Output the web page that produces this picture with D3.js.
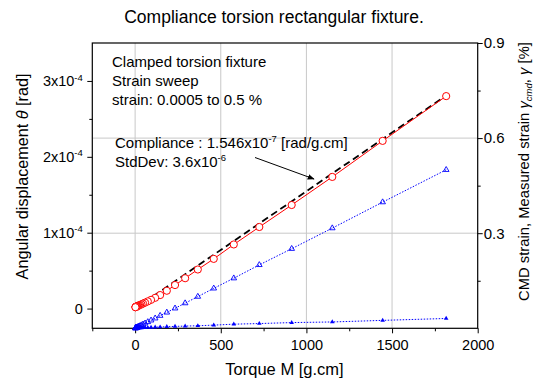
<!DOCTYPE html>
<html>
<head>
<meta charset="utf-8">
<script src="https://cdn.jsdelivr.net/npm/d3@7"></script>
<style>
  body { margin: 0; background: #fff; }
  svg { display: block; font-family: Arial, "Liberation Sans", sans-serif; }
</style>
</head>
<body>
<svg id="chart" width="538" height="383"></svg>
<script>

// DATA //
var torque = [1816, 1445, 1151, 914, 725, 576, 459, 366, 292, 233, 185, 146, 117, 93, 74, 58,
  46, 37, 29, 23, 18.4, 14.6, 11.6, 9.2, 7.3, 5.8, 4.6, 3.7, 2.9, 2.3, 1.8];
// angular displacement, rad
var angle = [2.80e-4, 2.21e-4, 1.735e-4, 1.365e-4, 1.075e-4, 0.845e-4, 0.655e-4, 0.515e-4, 0.40e-4,
  0.31e-4, 0.235e-4, 0.178e-4, 0.142e-4, 0.115e-4, 0.095e-4, 0.078e-4, 0.066e-4, 0.056e-4, 0.048e-4,
  0.042e-4, 0.037e-4, 0.033e-4, 0.030e-4, 0.027e-4, 0.025e-4, 0.023e-4, 0.022e-4, 0.021e-4, 0.020e-4,
  0.019e-4, 0.018e-4];
// CMD strain, %
var cmdStrain = [0.5, 0.398, 0.316, 0.251, 0.2, 0.158, 0.126, 0.1, 0.0794, 0.0631, 0.0501, 0.0398,
  0.0316, 0.0251, 0.02, 0.0158, 0.0126, 0.01, 0.00794, 0.00631, 0.00501, 0.00398, 0.00316, 0.00251,
  0.002, 0.00158, 0.00126, 0.001, 0.000794, 0.000631, 0.0005];
// measured strain, %
var measStrain = [0.031, 0.025, 0.020, 0.018, 0.015, 0.013, 0.010, 0.008, 0.007, 0.006, 0.005, 0.004,
  0.0035, 0.003, 0.0025, 0.002, 0.0018, 0.0015, 0.0012, 0.001, 0.0008, 0.0007, 0.0006, 0.0005,
  0.0004, 0.0003, 0.0003, 0.0002, 0.0002, 0.0001, 0.0001];
// compliance fit line
var fitTorque = [0, 1816];
var fitAngle = [0, 2.808e-4];

var xTicks = [0, 500, 1000, 1500, 2000];
var xMinor = [-250, 250, 750, 1250, 1750];
var yLTicks = [0, 1e-4, 2e-4, 3e-4];
var yLMinor = [0.5e-4, 1.5e-4, 2.5e-4];
var yRTicks = [0.3, 0.6, 0.9];
var yRMinor = [0.15, 0.45, 0.75];

var plot = { left: 92.3, right: 477.7, top: 43, bottom: 328.3 };

var svg = d3.select("#chart");

var x = d3.scaleLinear().domain([-250, 2000]).range([plot.left, plot.right]);
var yL = d3.scaleLinear().domain([-0.26e-4, 3.5e-4]).range([plot.bottom, plot.top]);
var yR = d3.scaleLinear().domain([0, 0.9]).range([plot.bottom, plot.top]);

// GRID //
var grid = svg.append("g").attr("stroke", "#c8c8c8").attr("stroke-width", 1);
grid.selectAll(".gx").data(xTicks.slice(0, -1)).enter().append("line")
  .attr("x1", d => x(d)).attr("x2", d => x(d))
  .attr("y1", plot.top).attr("y2", plot.bottom);
grid.selectAll(".gy").data(yRTicks.slice(0, -1)).enter().append("line")
  .attr("x1", plot.left).attr("x2", plot.right)
  .attr("y1", d => yR(d)).attr("y2", d => yR(d));

// AXES //
function styleAxis(g) {
  g.select(".domain").remove();
  g.selectAll("line").attr("stroke", "#000");
  g.selectAll("text").attr("fill", "#000");
}

svg.append("g")
  .attr("transform", `translate(0, ${plot.bottom})`)
  .call(d3.axisBottom(x).tickValues(xTicks).tickSize(5).tickPadding(6).tickFormat(d3.format("d")))
  .attr("font-size", 14.5).attr("font-family", null)
  .call(styleAxis);
svg.append("g")
  .attr("transform", `translate(0, ${plot.bottom})`)
  .call(d3.axisBottom(x).tickValues(xMinor).tickSize(3).tickFormat(""))
  .call(styleAxis);

var leftAxis = svg.append("g")
  .attr("transform", `translate(${plot.left}, 0)`)
  .call(d3.axisLeft(yL).tickValues(yLTicks).tickSize(5).tickPadding(4.5).tickFormat(""))
  .attr("font-size", 14.5).attr("font-family", null)
  .call(styleAxis);
leftAxis.selectAll(".tick text").each(function(d) {
  var t = d3.select(this);
  if (d === 0) { t.text("0"); return; }
  t.append("tspan").text(Math.round(d * 1e4) + "x10");
  t.append("tspan").attr("font-size", 9.5).attr("dy", -5.5).text("-4");
});
svg.append("g")
  .attr("transform", `translate(${plot.left}, 0)`)
  .call(d3.axisLeft(yL).tickValues(yLMinor).tickSize(3).tickFormat(""))
  .call(styleAxis);

svg.append("g")
  .attr("transform", `translate(${plot.right}, 0)`)
  .call(d3.axisRight(yR).tickValues(yRTicks).tickSize(5).tickPadding(1).tickFormat(d3.format(".1f")))
  .attr("font-size", 15).attr("font-family", null)
  .call(styleAxis);
svg.append("g")
  .attr("transform", `translate(${plot.right}, 0)`)
  .call(d3.axisRight(yR).tickValues(yRMinor).tickSize(3).tickFormat(""))
  .call(styleAxis);

// frame
svg.append("rect")
  .attr("x", plot.left).attr("y", plot.top)
  .attr("width", plot.right - plot.left).attr("height", plot.bottom - plot.top)
  .attr("fill", "none").attr("stroke", "#000").attr("stroke-width", 1.2);

// SERIES //
var idx = d3.range(torque.length);

// measured strain (filled triangles)
svg.append("path")
  .datum(idx)
  .attr("fill", "none").attr("stroke", "#0000ff").attr("stroke-width", 1)
  .attr("stroke-dasharray", "1.5,1.5")
  .attr("d", d3.line().x(i => x(torque[i])).y(i => yR(measStrain[i])));
svg.append("g").selectAll("path")
  .data(idx).enter().append("path")
  .attr("transform", i => `translate(${x(torque[i])}, ${yR(measStrain[i])})`)
  .attr("d", d3.symbol(d3.symbolTriangle, 9))
  .attr("fill", "#0000ff");

// CMD strain (open triangles)
svg.append("path")
  .datum(idx)
  .attr("fill", "none").attr("stroke", "#0000ff").attr("stroke-width", 1)
  .attr("stroke-dasharray", "1.5,1.5")
  .attr("d", d3.line().x(i => x(torque[i])).y(i => yR(cmdStrain[i])));
svg.append("g").selectAll("path")
  .data(idx).enter().append("path")
  .attr("transform", i => `translate(${x(torque[i])}, ${yR(cmdStrain[i])})`)
  .attr("d", d3.symbol(d3.symbolTriangle, 14))
  .attr("fill", "none").attr("stroke", "#0000ff").attr("stroke-width", 0.9);

// fit line
svg.append("path")
  .datum(d3.range(fitTorque.length))
  .attr("fill", "none").attr("stroke", "#000").attr("stroke-width", 1.8)
  .attr("stroke-dasharray", "7,4")
  .attr("d", d3.line().x(i => x(fitTorque[i])).y(i => yL(fitAngle[i])));

// angular displacement (red circles)
svg.append("path")
  .datum(idx)
  .attr("fill", "none").attr("stroke", "#ff0000").attr("stroke-width", 1)
  .attr("d", d3.line().x(i => x(torque[i])).y(i => yL(angle[i])));
svg.append("g").selectAll("circle")
  .data(idx).enter().append("circle")
  .attr("cx", i => x(torque[i])).attr("cy", i => yL(angle[i]))
  .attr("r", 3.6)
  .attr("fill", "#fff").attr("stroke", "#ff0000").attr("stroke-width", 1);

// TEXT //
svg.append("text")
  .attr("x", 274).attr("y", 22.5)
  .attr("text-anchor", "middle").attr("font-size", 17.5)
  .text("Compliance torsion rectangular fixture.");

svg.append("text")
  .attr("x", 284.5).attr("y", 375)
  .attr("text-anchor", "middle").attr("font-size", 16.5)
  .text("Torque M [g.cm]");

var yLabel = svg.append("text")
  .attr("transform", "translate(28, 176.5) rotate(-90)")
  .attr("text-anchor", "middle").attr("font-size", 16.2);
yLabel.append("tspan").text("Angular displacement ");
yLabel.append("tspan").attr("font-style", "italic").text("θ");
yLabel.append("tspan").text(" [rad]");

var y2Label = svg.append("text")
  .attr("transform", "translate(528.5, 171.5) rotate(-90)")
  .attr("text-anchor", "middle").attr("font-size", 14.8);
y2Label.append("tspan").text("CMD strain, Measured strain ");
y2Label.append("tspan").attr("font-style", "italic").text("γ");
y2Label.append("tspan").attr("font-style", "italic").attr("font-size", 9.5).attr("dy", 3).text("cmd");
y2Label.append("tspan").attr("dy", -3).text(", ");
y2Label.append("tspan").attr("font-style", "italic").text("γ");
y2Label.append("tspan").text(" [%]");

var notes = ["Clamped torsion fixture", "Strain sweep", "strain: 0.0005 to 0.5 %"];
svg.append("g").selectAll("text")
  .data(notes).enter().append("text")
  .attr("x", 112).attr("y", (d, i) => 67.3 + i * 18.7)
  .attr("font-size", 15)
  .text(d => d);

var c1 = svg.append("text").attr("x", 115).attr("y", 148.3).attr("font-size", 15);
c1.append("tspan").text("Compliance : 1.546x10");
c1.append("tspan").attr("font-size", 9.5).attr("dy", -6).text("-7");
c1.append("tspan").attr("dy", 6).text(" [rad/g.cm]");

var c2 = svg.append("text").attr("x", 115).attr("y", 167.3).attr("font-size", 15);
c2.append("tspan").text("StdDev: 3.6x10");
c2.append("tspan").attr("font-size", 9.5).attr("dy", -6).text("-6");

// arrow
svg.append("defs").append("marker")
  .attr("id", "arrow").attr("viewBox", "0 0 10 10")
  .attr("refX", 9).attr("refY", 5)
  .attr("markerWidth", 7).attr("markerHeight", 7)
  .attr("markerUnits", "userSpaceOnUse")
  .attr("orient", "auto")
  .append("path").attr("d", "M0,1 L10,5 L0,9 Z").attr("fill", "#000");
svg.append("line")
  .attr("x1", 255).attr("y1", 157.5).attr("x2", 314).attr("y2", 179)
  .attr("stroke", "#000").attr("stroke-width", 1)
  .attr("marker-end", "url(#arrow)");

</script>
</body>
</html>
